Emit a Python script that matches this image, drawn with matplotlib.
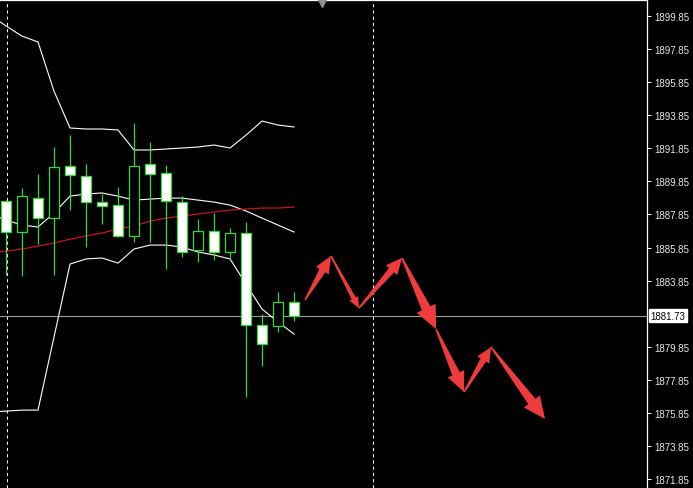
import numpy as np
import matplotlib
matplotlib.use("Agg")
import matplotlib.pyplot as plt
from matplotlib.patches import Rectangle, Polygon

# candles (bar index 0..18), prices
opens  = [1888.66, 1886.79, 1888.84, 1887.63, 1890.78, 1890.17, 1888.60, 1888.42, 1886.55, 1890.90,
          1890.36, 1888.60, 1885.70, 1886.85, 1885.58, 1886.73, 1881.16, 1881.10, 1882.55]
highs  = [1888.70, 1889.45, 1890.30, 1891.93, 1892.65, 1890.90, 1889.09, 1889.51, 1893.38, 1892.23,
          1890.84, 1888.96, 1887.57, 1887.94, 1887.03, 1887.39, 1881.83, 1883.16, 1883.16]
lows   = [1884.19, 1884.13, 1886.06, 1884.19, 1888.12, 1885.88, 1887.27, 1886.49, 1886.18, 1886.18,
          1884.55, 1885.28, 1884.97, 1885.09, 1885.16, 1876.81, 1878.68, 1880.74, 1881.41]
closes = [1886.79, 1888.96, 1887.63, 1890.72, 1890.24, 1888.60, 1888.36, 1886.55, 1890.78, 1890.30,
          1888.66, 1885.58, 1886.85, 1885.58, 1886.73, 1881.16, 1880.01, 1882.55, 1881.73]

# indicator lines, bar -1..18
band_upper = [1899.91, 1899.25, 1898.64, 1898.28, 1895.31, 1893.08, 1893.02, 1893.02, 1892.96, 1891.75,
              1891.75, 1891.81, 1891.87, 1891.93, 1892.05, 1891.87, 1892.65, 1893.50, 1893.26, 1893.14]
band_mid   = [1887.88, 1887.51, 1887.21, 1887.09, 1887.94, 1888.96, 1889.09, 1889.15, 1888.96, 1888.72,
              1888.78, 1888.84, 1888.84, 1888.72, 1888.60, 1888.42, 1888.06, 1887.63, 1887.21, 1886.79]
band_lower = [1875.90, 1875.96, 1876.02, 1876.02, 1880.44, 1884.85, 1885.16, 1885.22, 1884.91, 1885.76,
              1886.00, 1886.00, 1885.88, 1885.58, 1885.40, 1885.16, 1883.64, 1882.13, 1881.35, 1880.62]
ma_red     = [1885.52, 1885.64, 1885.76, 1885.94, 1886.12, 1886.36, 1886.55, 1886.73, 1886.97, 1887.15,
              1887.45, 1887.63, 1887.76, 1887.88, 1888.00, 1888.12, 1888.18, 1888.24, 1888.24, 1888.30]

# forecast arrows path (bar, price)
path_x = [18.69, 20.31, 22.06, 24.75, 26.88, 28.63, 30.31, 33.69]
path_y = [1882.68, 1885.34, 1882.19, 1885.22, 1880.92, 1877.11, 1879.83, 1875.48]
head_len = [17, 11, 16, 23, 20, 15, 22]
head_wid = [15, 10, 15, 21, 18, 14, 20]

# the 1881.85 label is hidden behind the current-price box
tick_vals = [v for v in np.arange(1871.85, 1900.0, 2.0) if abs(v - 1881.85) > 0.01]
last_price = closes[-1]
separators = [0.06, 22.94]

W, H = 693, 489
fig = plt.figure(figsize=(W / 100, H / 100), dpi=100, facecolor="black")
ax = fig.add_axes([0, 0, 647 / W, 488 / H], facecolor="black")
ax.set_xlim(-0.375, 40.06)
ax.set_ylim(1871.31, 1900.82)

green = "#36d936"

for x in separators:
    ax.axvline(x, color="white", lw=0.75, ls=(0, (3, 3)), zorder=1)
ax.axhline(last_price, color="#9a9a9a", lw=0.8, zorder=1)

bx = np.arange(-1, len(band_upper) - 1)
for ser in (band_upper, band_mid, band_lower):
    ax.plot(bx, ser, color="white", lw=0.8, zorder=2)
ax.plot(bx, ma_red, color="#c81414", lw=0.9, zorder=2)

bw = 0.62
for i, (o, h, l, c) in enumerate(zip(opens, highs, lows, closes)):
    ax.vlines(i, l, h, color=green, lw=0.9, zorder=3)
    fill = "white" if c < o else "black"
    ax.add_patch(Rectangle((i - bw / 2, min(o, c)), bw, max(abs(c - o), 0.05),
                           facecolor=fill, edgecolor=green, lw=0.9, zorder=4))

# fat arrows built in pixel space
td = ax.transData
for k in range(len(path_x) - 1):
    p0 = td.transform((path_x[k], path_y[k]))
    p1 = td.transform((path_x[k + 1], path_y[k + 1]))
    d = p1 - p0
    u = d / np.hypot(*d)
    n = np.array([-u[1], u[0]])
    hl, hw = head_len[k], head_wid[k]
    sw = hw * 0.45
    base = p1 - u * hl
    pts = [p0 + n * 0.8, base + n * sw / 2, base + n * hw / 2, p1,
           base - n * hw / 2, base - n * sw / 2, p0 - n * 0.8]
    pts = td.inverted().transform(np.array(pts))
    ax.add_patch(Polygon(pts, closed=True, facecolor="#ef3b3b", edgecolor="none", zorder=5))

# chart-shift marker
ax.plot([19.75], [0.994], marker="v", ms=6, color="#8f8f8f",
        transform=ax.get_xaxis_transform(), clip_on=False, zorder=6)

for s in ("left", "bottom"):
    ax.spines[s].set_visible(False)
for s in ("top", "right"):
    ax.spines[s].set_color("white")
    ax.spines[s].set_linewidth(0.9)

ax.set_xticks([])
ax.yaxis.tick_right()
ax.set_yticks(tick_vals)
ax.set_yticklabels([f"{v:.2f}" for v in tick_vals])
ax.tick_params(axis="y", colors="white", length=3, width=0.7, pad=2.5,
               labelsize=7, labelcolor="#e8e8e8")
for t in ax.get_yticklabels():
    t.set_family("Liberation Sans")

ax.text(1.005, last_price, f"{last_price:.2f}", transform=ax.get_yaxis_transform(),
        ha="left", va="center", fontsize=7, family="Liberation Sans", color="black",
        bbox=dict(boxstyle="square,pad=0.15", facecolor="white", edgecolor="white"),
        clip_on=False, zorder=7)

fig.savefig("out.png", dpi=100, facecolor="black")
